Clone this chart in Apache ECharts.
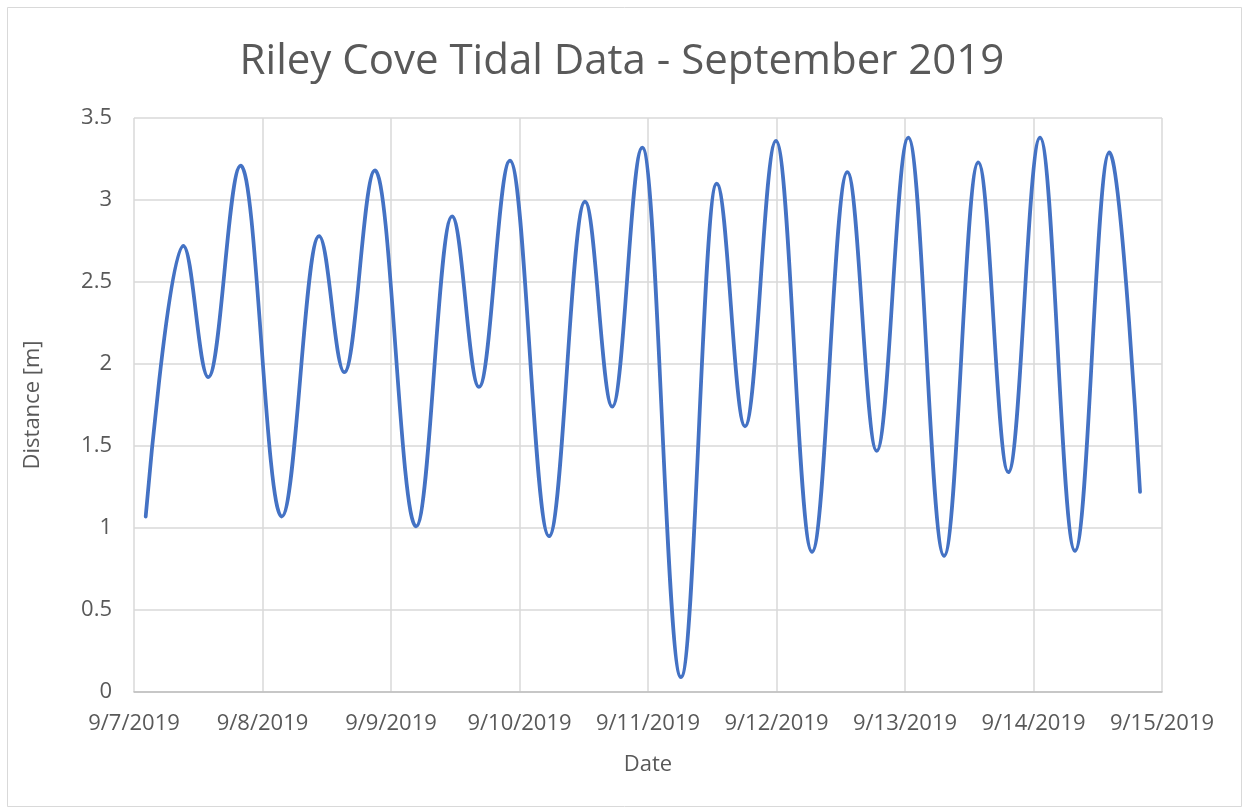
<!DOCTYPE html>
<html><head><meta charset="utf-8">
<script src="https://cdn.jsdelivr.net/npm/echarts@6/dist/echarts.min.js"></script>
<style>html,body{margin:0;padding:0;background:#fff}#c{width:1244px;height:809px}</style>
</head><body><div id="c"></div>
<script>
// Tide readings (clock times)
const times = [
  '2019-09-07T02:11', '2019-09-07T09:12', '2019-09-07T13:52', '2019-09-07T19:56',
  '2019-09-08T03:35', '2019-09-08T10:34', '2019-09-08T15:17', '2019-09-08T21:00',
  '2019-09-09T04:41', '2019-09-09T11:24', '2019-09-09T16:26', '2019-09-09T22:13',
  '2019-09-10T05:31', '2019-09-10T12:14', '2019-09-10T17:20', '2019-09-10T22:56',
  '2019-09-11T06:10', '2019-09-11T12:50', '2019-09-11T18:07', '2019-09-11T23:54',
  '2019-09-12T06:38', '2019-09-12T13:14', '2019-09-12T18:43', '2019-09-13T00:37',
  '2019-09-13T07:18', '2019-09-13T13:41', '2019-09-13T19:18', '2019-09-14T01:13',
  '2019-09-14T07:45', '2019-09-14T14:10', '2019-09-14T19:54'
];
const distances = [
  1.07, 2.72, 1.92, 3.21,
  1.07, 2.78, 1.95, 3.18,
  1.01, 2.90, 1.86, 3.24,
  0.95, 2.99, 1.74, 3.32,
  0.09, 3.10, 1.62, 3.36,
  0.855, 3.17, 1.47, 3.38,
  0.83, 3.23, 1.34, 3.38,
  0.86, 3.29, 1.22
];
const xStart = '2019-09-07T00:00';
const xEnd = '2019-09-15T00:00';
const yTicks = [0, 0.5, 1, 1.5, 2, 2.5, 3, 3.5];
const titleText = 'Riley Cove Tidal Data - September 2019';
const xName = 'Date';
const yName = 'Distance [m]';

const toMs = s => Date.parse(s + ':00Z');
const DAY = 86400000;
const seriesData = times.map((t, i) => [toMs(t), distances[i]]);
const FONT = '"Open Sans", sans-serif';
const TXT = '#595959';

const chart = echarts.init(document.getElementById('c'), null, {renderer: 'canvas'});
chart.setOption({
  animation: false,
  backgroundColor: '#fff',
  graphic: [{
    type: 'rect', left: 5, top: 5, silent: true,
    shape: {width: 1234, height: 799},
    style: {fill: 'none', stroke: '#d9d9d9', lineWidth: 1}
  }],
  title: {
    text: titleText, left: 'center', top: 36,
    textStyle: {fontFamily: FONT, fontSize: 42, fontWeight: 'normal', color: TXT}
  },
  grid: {left: 134, right: 82, top: 118, bottom: 117, containLabel: false},
  xAxis: {
    type: 'value',
    min: toMs(xStart), max: toMs(xEnd), interval: DAY,
    name: xName, nameLocation: 'middle', nameGap: 62,
    nameTextStyle: {fontFamily: FONT, fontSize: 22, color: TXT},
    axisLine: {show: true, lineStyle: {color: '#bfbfbf', width: 1.5}},
    axisTick: {show: false},
    axisLabel: {
      fontFamily: FONT, fontSize: 22, color: TXT, margin: 21,
      formatter: v => { const d = new Date(v); return (d.getUTCMonth() + 1) + '/' + d.getUTCDate() + '/' + d.getUTCFullYear(); }
    },
    splitLine: {show: true, lineStyle: {color: '#d9d9d9', width: 1.5}}
  },
  yAxis: {
    type: 'value',
    min: yTicks[0], max: yTicks[yTicks.length - 1], interval: yTicks[1] - yTicks[0],
    name: yName, nameLocation: 'middle', nameGap: 90, nameRotate: 90,
    nameTextStyle: {fontFamily: FONT, fontSize: 22, color: TXT},
    axisLine: {show: false},
    axisTick: {show: false},
    axisLabel: {fontFamily: FONT, fontSize: 22, color: TXT, margin: 22},
    splitLine: {show: true, lineStyle: {color: '#d9d9d9', width: 1.5}}
  },
  series: [{
    type: 'line',
    data: seriesData,
    showSymbol: false,
    smooth: 0.38,
    smoothMonotone: 'x',
    lineStyle: {color: '#4472C4', width: 3.75, cap: 'round', join: 'round'},
    itemStyle: {color: '#4472C4'}
  }]
});
</script>
</body></html>
